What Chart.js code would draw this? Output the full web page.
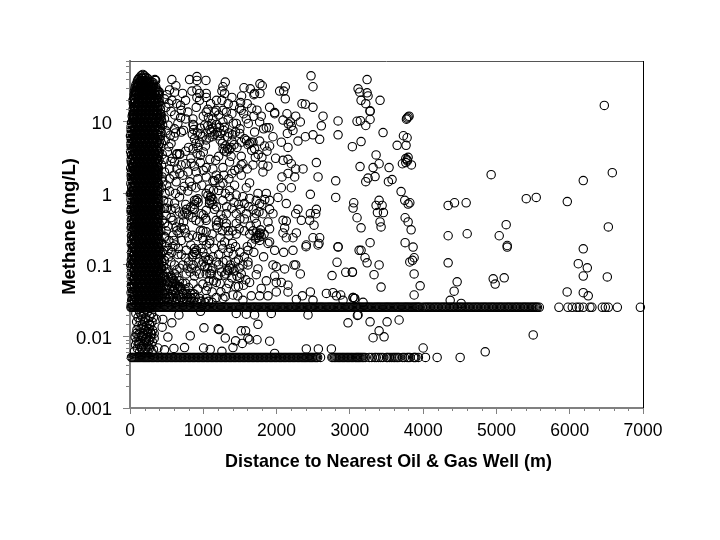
<!DOCTYPE html>
<html><head><meta charset="utf-8">
<style>html,body{margin:0;padding:0;background:#fff}canvas{display:block}</style>
<script src="https://cdn.jsdelivr.net/npm/chart.js@4"></script>
</head><body><canvas id="c" width="720" height="540" style="width:720px;height:540px"></canvas>
<script>
const xTickLabels=['0','1000','2000','3000','4000','5000','6000','7000'];
const yTickLabels=['0.001','0.01','0.1','1','10'];
const xTitle='Distance to Nearest Oil & Gas Well (m)';
const yTitle='Methane (mg/L)';
const detectLimitHigh=0.0256;
const detectLimitLow=0.0051;
const highLimitDistances=[12,40,70,95,120,150,180,210,240,270,300,330,360,390,420,455,490,520,550,585,620,650,680,715,750,780,810,845,880,910,940,975,1010,1040,1070,1105,1140,1170,1200,1235,1270,1300,1330,1365,1400,1430,1460,1495,1530,1560,1590,1625,1660,1690,1720,1755,1790,1820,1850,1885,1920,1950,1980,2015,2050,2080,2110,2145,2180,2210,2240,2275,2310,2340,2370,2405,2440,2470,2500,2535,2570,2600,2630,2665,2700,2730,2760,2795,2830,2860,2890,2925,2960,2990,3020,3055,3090,3120,3150,3185,3220,3250,3280,3315,3350,3380,3410,3445,3480,3510,3540,3575,3610,3640,3670,3705,3740,3770,3800,3835,3870,3900,3930,3958,3990,4030,4065,4100,4140,4175,4210,4250,4285,4320,4360,4395,4430,4470,4505,4540,4580,4615,4650,4690,4725,4760,4800,4835,4870,4910,4945,4980,5020,5055,5090,5130,5165,5200,5240,5275,5310,5350,5385,5420,5460,5495,5530,5560,5585,5853,5976,6035,6094,6130,6185,6276,6303,6445,6486,6527,6650,6964];
const highLimitExtra=[25,55,82,108,135,165,195,225,255,285,315,345,375,405,437,472,505,535,567,602,635,665,697,732,765,795,827,862,895,925,957,992,1025,1055,1087,1122,1155,1185,1217,1252,1285,1315,1347,1382,1415,1445,1477,1512,1545,1575,1607,1642,1675,1705,1737,1772,1805,1835,1867,1902,1935,1965,1997,2032,2065,2095,2127,2162,2195,2225,2257,2292,2325,2355,2387,2422,2455,2485,2517,2552,2585,2615,2647,2682,2715,2745,2777,2812,2845,2875,2907,2942,2975,3005,3037,3072,3105,3135,3167,3202,3235,3265,3297,3332,3365,3395,3427,3462,3495,3525,3557,3592,3625,3655,3687,3722,3755,3785,3817,3852,3885,3915,3944,4012,4048,4082,4120,4158,4192,4230,4268,4302,4340,4378,4412,4450,4488,4522,4560,4598,4632,4670,4708,4742,4780,4818,4852,4890,4928,4962,5000,5038,5072,5110,5148,5182,5220,5258,5292,5330,5368,5402,5440,5478,5512,5545];
const lowLimitDistances=[30,60,90,120,150,180,210,240,270,305,340,375,410,445,480,515,550,585,620,655,690,725,760,795,830,865,900,935,970,1005,1040,1075,1110,1145,1180,1215,1250,1285,1320,1355,1390,1425,1460,1495,1530,1565,1600,1635,1670,1705,1740,1775,1810,1845,1880,1915,1950,1985,2020,2055,2090,2125,2160,2195,2230,2265,2300,2335,2370,2400,2430,2465,2495,2530,2560,2600,2755,2790,2825,2860,2895,2930,2965,3000,3035,3075,3105,3135,3170,3210,3265,3300,3340,3390,3420,3450,3500,3540,3565,3610,3650,3670,3720,3780,3820,3870,3900,3935,4032,4191,4505];
const lowLimitExtra=[20,45,75,105,135,165,195,225,255,288,322,358,392,428,462,498,532,568,602,638,672,708,742,778,812,848,882,918,952,988,1022,1058,1092,1128,1162,1198,1232,1268,1302,1338,1372,1408,1442,1478,1512,1548,1582,1618,1652,1688,1722,1758,1792,1828,1862,1898,1932,1968,2002,2038,2072,2108,2142,2178,2212,2248,2282,2318,2352,2385,2415,2448,2480,2512,2545,2770,2808,2842,2878,2912,2948,2982,3018,3055,3090,3120,3152,3190,3360,3515,3590,3630,3745,3800,3885];
const blobMethane=[0.03,0.034,0.039,0.044,0.05,0.057,0.065,0.074,0.084,0.096,0.11,0.125,0.14,0.16,0.18,0.21,0.24,0.27,0.31,0.35,0.4,0.45,0.52,0.59,0.67,0.76,0.87,0.99,1.1,1.3,1.45,1.65,1.9,2.1,2.4,2.8,3.1,3.6,4.1,4.6,5.3,6,6.8,7.8,8.9,10,11.5,13,15,17,19,22,25,28,32,36,41];
const blobDistances=[
[55,110,165,220,275,330,385],[80,135,190,245,300,355,410],[45,100,160,215,270,325,380],[70,125,185,240,295,350,405],
[50,105,160,218,272,328,384],[75,130,188,244,298,352,400],[48,102,158,214,268,322,378],[72,128,182,238,292,348,395],
[52,108,164,220,274,330,382],[78,132,186,242,296,354,398],[46,100,156,212,266,320,376],[70,126,180,236,290,346,392],
[50,106,162,216,272,326,380],[76,130,184,240,294,350,396],[44,98,154,210,264,318,374],[68,124,178,234,288,344,390],
[48,104,160,214,270,324,378],[74,128,182,238,292,348,388],[42,96,152,208,262,316,372],[66,122,176,232,286,342,386],
[46,102,158,212,268,322,376],[72,126,180,236,290,346,384],[40,94,150,206,260,314,370],[64,120,174,230,284,340,382],
[44,100,156,210,266,320,374],[70,124,178,234,288,344,380],[38,92,148,204,258,312,368],[62,118,172,228,282,338,378],
[42,98,154,208,264,318,372],[68,122,176,232,286,342,376],[36,90,146,202,256,310,366],[60,116,170,226,280,336,374],
[40,96,152,206,262,316,370],[66,120,174,230,284,340,378],[34,88,144,200,254,308,364],[58,114,168,224,278,334,380],
[38,94,150,204,260,314,368],[64,118,172,228,282,338,384],[32,86,142,198,252,306,362],[56,112,166,222,276,332,388],
[30,90,148,202,258,312,366],[52,110,170,226,280,336,395],[28,88,144,200,256,310,364],[54,108,168,224,278,334,400],
[30,86,142,198,254,308,360],[56,106,166,222,276,332,405],[60,112,164,218,270,322,372],[66,118,170,224,276,328,384],
[70,122,176,230,282,336],[80,130,184,238,290,345],[75,126,180,234,286,340],[85,135,190,244,296],[90,140,194,250,330],
[100,150,200,262],[115,165,220,285],[130,180,235],[160,205,170]
];
const blobMethaneB=[0.028,0.032,0.036,0.041,0.047,0.053,0.061,0.069,0.079,0.09,0.103,0.117,0.133,0.15,0.17,0.195,0.225,0.255,0.29,0.33,0.375,0.425,0.485,0.555,0.63,0.715,0.815,0.93,1.05,1.2,1.37,1.55,1.77,2,2.25,2.6,2.95,3.35,3.85,4.35,4.95,5.65,6.4,7.3,8.3,9.5,10.8,12.2,14,16,18,20.5,23.5,26.5,30,34,38];
const blobDistancesB=[
[18,35,85,140,195,250,305,360],[22,60,115,170,225,280,335,390],[30,75,130,190,245,300,355,395],[15,50,105,160,215,270,325,385],
[25,80,135,195,250,305,358,408],[20,55,112,168,222,278,332,392],[28,78,134,188,242,296,352,402],[16,58,110,166,220,276,330,388],
[24,82,138,194,248,302,356,406],[20,62,116,172,226,280,336,384],[30,74,128,184,240,294,348,394],[18,56,112,168,224,278,332,386],
[26,80,136,190,246,300,354,402],[22,60,114,170,224,282,338,384],[32,72,126,182,238,292,346,398],[18,54,108,164,218,274,328,382],
[24,78,132,188,244,298,352,400],[20,58,112,166,220,276,330,380],[30,70,124,180,236,290,344,396],[16,52,106,162,216,272,326,378],
[22,76,130,186,242,296,350,398],[18,56,110,164,218,274,328,376],[28,68,122,178,234,288,342,394],[15,50,104,160,214,270,324,380],
[20,74,128,184,240,294,348,396],[26,54,108,162,216,272,326,384],[14,66,120,176,232,286,340,392],[30,48,102,158,212,268,322,378],
[18,72,126,182,238,292,346,394],[24,52,106,160,214,270,324,380],[12,64,118,174,230,284,338,390],[32,46,100,156,210,266,320,376],
[16,70,124,180,236,290,344,392],[22,50,104,158,212,268,322,382],[10,62,116,172,228,282,336,388],[28,44,98,154,208,264,318,374],
[14,68,122,178,234,288,342,396],[20,48,102,156,210,266,320,384],[8,60,114,170,226,280,334,392],[26,42,96,152,206,262,316,372],
[12,66,120,176,232,286,340,400],[18,46,100,154,208,264,318,412],[6,58,112,168,224,278,332,418],[24,40,94,150,204,260,314,424],
[14,64,118,174,230,284,338,415],[20,44,98,152,206,262,316,408],[38,84,136,190,244,296,348,396],[44,92,144,196,250,302,356,404],
[50,96,150,204,256,308,362],[54,104,158,210,264,318,370],[58,100,154,206,260,312,366],[64,112,166,216,272,322,352],
[72,118,172,226,280,312],[84,128,178,234,274],[96,148,196,248,300],[120,158,210,264],[145,176,226]
];
const blobMethaneC=[0.032,0.037,0.042,0.048,0.055,0.063,0.071,0.082,0.093,0.106,0.12,0.137,0.155,0.177,0.2,0.23,0.26,0.3,0.34,0.39,0.44,0.5,0.57,0.65,0.74,0.84,0.96,1.08,1.24,1.42,1.6,1.83,2.07,2.35,2.7,3.05,3.45,3.95,4.5,5.1,5.8,6.6,7.5,8.6,9.8,11.1,12.7,14.5,16.5,18.8,21.3,24,27,31,35];
const blobDistancesC=[
[38,92,150,205,262,318,368],[62,118,176,232,288,340,392],[34,88,144,200,256,312,362],[58,112,170,226,282,336,388],
[36,90,148,204,260,316,366],[60,116,174,230,286,338,390],[32,86,142,198,254,310,360],[56,110,168,224,280,334,386],
[34,88,146,202,258,314,364],[58,114,172,228,284,336,388],[30,84,140,196,252,308,358],[54,108,166,222,278,332,384],
[32,86,144,200,256,312,362],[56,112,170,226,282,334,386],[28,82,138,194,250,306,356],[52,106,164,220,276,330,382],
[30,84,142,198,254,310,360],[54,110,168,224,280,332,384],[26,80,136,192,248,304,354],[50,104,162,218,274,328,380],
[28,82,140,196,252,308,358],[52,108,166,222,278,330,382],[24,78,134,190,246,302,352],[48,102,160,216,272,326,378],
[26,80,138,194,250,306,356],[50,106,164,220,276,328,380],[22,76,132,188,244,300,350],[46,100,158,214,270,324,376],
[24,78,136,192,248,304,354],[48,104,162,218,274,326,378],[20,74,130,186,242,298,348],[44,98,156,212,268,322,374],
[22,76,134,190,246,302,352],[46,102,160,216,272,324,376],[18,72,128,184,240,296,346],[42,96,154,210,266,320,372],
[20,74,132,188,244,300,350],[44,100,158,214,270,322,374],[16,70,126,182,238,294,344],[40,94,152,208,264,318,370],
[18,72,130,186,242,298,348],[42,98,156,212,268,320,380],[15,68,124,180,236,292,342],[38,92,150,206,262,316,376],
[22,76,128,182,236,288,342,392],[46,94,146,200,254,306,360,410],[48,104,160,214,268,320,374,420],[60,110,152,208,262,314,368],
[66,116,168,222,278,332,380],[72,122,176,232,286,338,386],[58,108,162,216,270,326,372],[68,120,174,228,284,340,394],
[76,128,182,238,292,344,384],[86,136,192,246,300,352],[100,154,208,266,318]
];
const lowBlobPoints=[[80,0.021],[130,0.022],[185,0.0215],[240,0.022],[295,0.021],[110,0.0185],[160,0.019],[215,0.0185],[270,0.019],[320,0.0185],[90,0.016],[140,0.0165],[195,0.016],[250,0.0165],[300,0.016],[120,0.014],[170,0.0145],[225,0.014],[275,0.0142],[95,0.0125],[150,0.0128],[205,0.0125],[260,0.0128],[310,0.0122],[85,0.011],[135,0.0112],[190,0.011],[245,0.0112],[295,0.0108],[70,0.0098],[120,0.0096],[175,0.0098],[230,0.0096],[280,0.0098],[330,0.0094],[90,0.0086],[145,0.0088],[200,0.0086],[255,0.0086],[305,0.0084],[75,0.0076],[125,0.0077],[180,0.0076],[235,0.0076],[290,0.0076],[100,0.0068],[155,0.0068],[210,0.0068],[265,0.0068],[320,0.0066],[60,0.0062],[130,0.006],[190,0.006],[245,0.006],[300,0.006],[150,0.0205],[210,0.0175],[265,0.015],[180,0.0132],[235,0.0118],[280,0.0115],[160,0.0103],[215,0.0092],[270,0.009],[120,0.0082],[160,0.0072],[250,0.0072],[220,0.0082],[110,0.0105],[330,0.011]];
const topBlobPoints=[[175,46],[150,44],[195,44],[125,41],[220,42],[245,40],[100,37],[270,37],[300,36],[80,33],[320,33],[70,30],[345,30],[60,27],[365,28],[380,26],[55,24],[390,24],[395,21],[50,21],[400,19],[45,18],[410,17],[42,15],[415,15],[38,13],[420,13],[110,39],[140,36],[170,38],[205,37],[235,35],[105,31],[130,29],[160,31],[190,30],[220,30],[255,31],[285,30],[315,28],[75,26],[100,25],[125,24],[155,26],[185,25],[215,25],[245,25],[275,25],[305,24],[335,25],[360,23]];
const triangleZonePoints=[[420,0.03],[470,0.031],[520,0.03],[570,0.031],[620,0.03],[670,0.031],[720,0.03],[770,0.031],[820,0.03],[870,0.031],[920,0.03],[970,0.031],[1020,0.03],[1070,0.031],[1120,0.03],[440,0.034],[490,0.035],[540,0.034],[590,0.035],[640,0.034],[690,0.035],[740,0.034],[790,0.035],[840,0.034],[890,0.035],[950,0.034],[420,0.038],[470,0.039],[520,0.04],[570,0.039],[620,0.04],[670,0.039],[720,0.04],[770,0.039],[820,0.04],[880,0.039],[440,0.044],[490,0.045],[540,0.046],[600,0.045],[650,0.046],[700,0.045],[750,0.046],[420,0.05],[470,0.052],[520,0.052],[570,0.05],[630,0.052],[680,0.05],[440,0.058],[490,0.06],[540,0.058],[600,0.06],[420,0.066],[470,0.068],[520,0.068],[440,0.076],[480,0.08],[420,0.09],[460,0.095],[430,0.11],[470,0.115],[420,0.14],[460,0.16],[430,0.2],[470,0.25],[420,0.3],[440,0.42],[420,0.6],[460,0.8],[430,1.2],[440,1.7],[430,2.5],[440,3.5]];
const clusterPoints=[[904,0.8],[930,0.75],[880,0.7],[1109,0.89],[1109,0.76],[1130,0.82],[1085,0.72],[745,0.55],[770,0.6],[720,0.5],[1746,0.257],[1770,0.27],[1720,0.24],[881,0.15],[905,0.16],[860,0.14],[881,0.17],[1109,0.083],[1130,0.09],[1090,0.075],[1336,0.083],[1360,0.09],[1310,0.075],[562,0.067],[608,0.049],[585,0.055],[1000,0.5],[1030,0.45],[1240,0.5],[1270,0.44],[1180,0.36],[1210,0.4],[1310,0.34],[1340,0.3],[960,0.3],[920,0.25],[990,0.24],[670,0.4],[700,0.33],[640,0.3],[590,0.26],[520,0.35],[560,0.46],[500,0.62],[1400,0.2],[1440,0.18],[1370,0.17],[1290,0.21],[1250,0.19],[1000,0.22],[1040,0.19],[1030,0.13],[1080,0.12],[1000,0.11],[1210,0.1],[1270,0.11],[1440,0.11],[1490,0.09],[1540,0.1],[700,0.14],[660,0.17],[620,0.19],[570,0.15],[520,0.16],[680,0.09],[640,0.085],[820,0.08],[860,0.1],[780,0.09],[1600,0.18],[1660,0.2],[1680,0.3],[1560,0.3],[1640,0.35],[1500,0.44]];
const upperFieldExtra=[[470,11],[520,9],[490,7.5],[550,6.5],[480,5.5],[510,3.8],[580,3.1],[470,3],[560,2.8],[640,2.2],[680,1.9],[600,1.8],[760,2.6],[830,3.1],[880,2.4],[960,2.7],[1000,2.1],[1090,3],[1170,2.9],[1210,3.3],[1380,3.3],[1430,2.1],[1480,2.2],[1600,2.2],[1350,1.6],[1390,1.9],[1280,1.8],[1210,1.6],[980,1.3],[900,1.2],[840,1.25],[1000,12],[1070,11.5],[1210,12.5],[1110,9.5],[1190,7.2],[1240,6.9],[1280,7.6],[1330,6.2],[1440,7.2],[1390,5.4],[960,8.2],[920,7],[960,6.8],[690,11.5],[760,11],[690,17],[640,18],[700,14.5],[610,12.5],[560,14],[530,18],[490,16],[470,21],[1100,18],[1180,20],[1340,18],[1420,17],[1600,18],[1660,15.5]];
const midUpperPoints=[[571,39],[626,32],[540,28],[503,24],[608,26],[571,20],[717,25],[758,20],[813,39],[913,43],[913,38],[1036,38],[845,27],[913,28],[949,25],[913,22],[1040,25],[949,20],[1040,22],[1300,36],[1268,31],[1254,27],[1291,25],[1391,22],[1254,20],[1555,30],[1641,29],[1773,34],[1805,32],[1700,25],[1773,25],[1523,23],[1691,24],[2042,27],[2119,31],[2097,27],[2119,21],[2470,44],[2497,31],[2347,18],[2393,17.7],[2497,16],[2634,12],[2611,8.8],[2839,10.3],[2839,6.6],[1905,16],[1974,13.5],[1974,13],[1732,14.6],[1791,12],[1691,12],[1587,11],[1614,9.5],[1769,10],[2142,13],[2261,12],[2088,10.6],[2324,10],[2188,10],[2160,9.4],[2201,8.7],[2224,7.6],[2147,6.9],[2393,6.2],[2497,6.6],[2588,5.7],[2292,5.4],[2065,5.2],[2156,4.4],[1951,6.2],[1860,8.3],[1896,8.3],[1823,8],[1700,7.2],[1769,5.4],[1905,4.6],[1837,4.6],[1869,3.9],[1518,14.6],[1496,15.5],[1550,13],[1509,18.6],[1391,13],[1314,13.7],[1268,10],[1154,13.7],[1063,15],[1040,13.7],[790,13.7],[858,11],[867,9],[653,9.5],[608,8],[731,7.6],[904,16],[1131,11],[1177,14.5],[1268,14.5],[1450,9.5],[1496,6.9],[1564,5.8],[1518,5.2],[1632,5],[1678,5.2],[1109,7.2],[1090,7.8],[1130,8.2],[1150,6.6],[1080,6],[1120,6.2],[1200,6.4],[1230,5.6],[1260,5],[1300,4.6],[1330,4.3],[1355,4.1],[1290,3.9],[1270,4.2],[1320,3.8],[1380,4.4],[1420,4.8],[1460,4.4],[1400,6.6],[1350,7],[1290,8.4],[1590,5.5],[1650,5.2],[1610,4.8],[858,9.2],[870,7.8],[850,6.7],[880,5.8],[900,5],[930,4.4],[860,4.2],[915,3.6],[960,3.4],[1000,3.8],[1030,4.6],[1040,5.6],[990,6.2],[950,5.2],[800,4.4],[760,3.9],[680,3.5],[640,3.6],[560,5],[530,4.5],[600,6.2],[620,7],[700,7.2],[1020,9],[1060,8.8],[1180,9.2],[1220,8.4],[1340,11],[1410,9.6],[1500,8],[1660,4],[1700,4.2],[1750,3.5],[1800,3.2]];
const midCentrePoints=[[640,3.5],[676,3.6],[608,2.75],[699,2.5],[835,2.65],[790,2],[904,2],[540,2.2],[926,1.6],[813,1.45],[722,1.8],[630,1.45],[540,1.6],[449,1.45],[540,1.08],[608,0.73],[676,0.89],[790,1.08],[880,0.8],[926,0.84],[1040,2.3],[1131,2.2],[1268,2.3],[1359,2.75],[1518,2.5],[1541,2.6],[1518,3.3],[1678,2.5],[1710,3.2],[1814,2.5],[1882,2.4],[1814,2],[1987,3.1],[2088,2.9],[2156,3],[2201,2.6],[2261,2.2],[2361,2.2],[2543,2.7],[2566,1.7],[2807,1.5],[2807,0.88],[2074,1.7],[2156,1.9],[2247,1.7],[2201,1.2],[2065,1.2],[2461,0.97],[1860,1],[1746,1],[1632,1.4],[1587,1.2],[1427,1.3],[1518,1.8],[1359,1.1],[1268,1.4],[1154,1.5],[1131,1.5],[1040,1.7],[1177,1.8],[1063,0.94],[1086,0.8],[1131,0.7],[1040,1],[1268,0.8],[1359,0.9],[1450,0.95],[1541,0.9],[1632,0.85],[1723,0.8],[1769,0.72],[1905,0.8],[2019,0.88],[2133,0.72],[1905,0.6],[1951,0.52],[2292,0.6],[2261,0.52],[2543,0.6],[2461,0.52],[2534,0.52],[2338,0.42],[2451,0.42],[2511,0.36],[1814,0.52],[1723,0.52],[1587,0.52],[1450,0.52],[1314,0.52],[1154,0.6],[1040,0.58],[972,0.52],[767,0.52],[676,0.55],[494,0.5],[585,0.42],[471,0.38],[731,0.4],[949,0.4],[1040,0.42],[1177,0.42],[1314,0.38],[1450,0.38],[1723,0.38],[1883,0.4],[2088,0.42],[2133,0.41],[2110,0.33],[1905,0.32],[1723,0.28],[1632,0.27],[1769,0.28],[1769,0.22],[1905,0.21],[2088,0.28],[2270,0.28],[2224,0.24],[2133,0.24],[2497,0.24],[2588,0.24],[2566,0.19],[2406,0.19],[2839,0.18],[1450,0.27],[1040,0.29],[995,0.3],[744,0.32],[630,0.34],[494,0.3],[560,0.6],[520,0.75],[480,1],[500,1.3],[470,2],[620,1],[700,1.1],[740,1.25],[760,0.7],[830,0.65],[860,0.62],[880,0.6],[800,0.5],[850,0.46],[900,0.42],[620,0.62],[470,0.62],[1080,1.15],[1100,0.9],[1140,1.1],[1180,0.65],[1210,1.1],[1230,1.3],[1300,1],[1320,0.65],[1390,0.62],[1420,0.75],[1480,0.7],[1510,0.6],[1560,0.72],[1620,0.65],[1680,0.6],[1700,0.45],[1760,0.55],[1800,0.7],[1840,0.82],[1560,0.44],[1490,0.32],[1400,0.3],[1350,0.26],[1260,0.3],[1230,0.24],[1190,0.33],[1120,0.27],[1090,0.22],[850,0.26],[800,0.24],[760,0.28],[700,0.22],[670,0.28],[600,0.22],[530,0.22],[470,0.24],[1780,0.31],[1750,0.24],[1710,0.23],[1790,0.25],[1830,0.27]];
const midLowerPoints=[[2402,0.18],[2579,0.2],[2839,0.178],[3126,0.16],[2825,0.109],[2757,0.071],[2944,0.079],[3035,0.079],[2324,0.075],[2261,0.1],[2238,0.1],[2110,0.088],[1996,0.095],[1951,0.1],[1823,0.13],[1974,0.16],[2097,0.15],[2224,0.16],[1883,0.2],[1746,0.088],[1723,0.073],[1609,0.16],[1609,0.1],[1632,0.057],[1860,0.06],[1974,0.07],[1996,0.057],[2065,0.057],[2156,0.052],[1791,0.047],[1769,0.037],[1655,0.037],[1883,0.037],[1996,0.042],[2156,0.042],[2270,0.033],[2352,0.037],[2461,0.042],[2497,0.032],[2680,0.04],[2770,0.041],[2816,0.037],[2875,0.038],[2907,0.032],[3044,0.035],[3066,0.034],[1541,0.032],[1496,0.067],[1518,0.075],[1405,0.09],[1314,0.115],[1268,0.17],[1086,0.2],[1063,0.115],[995,0.15],[904,0.14],[767,0.16],[653,0.14],[585,0.18],[494,0.18],[722,0.1],[608,0.1],[494,0.088],[585,0.064],[676,0.06],[767,0.075],[904,0.082],[949,0.075],[1108,0.075],[1177,0.057],[995,0.054],[1040,0.044],[926,0.046],[1314,0.047],[1405,0.038],[1268,0.034],[1177,0.035],[1040,0.034],[858,0.04],[722,0.04],[585,0.044],[494,0.049],[494,0.034],[430,0.09],[450,0.07],[430,0.055],[450,0.04],[410,0.12],[440,0.15],[530,0.13],[560,0.11],[520,0.08],[560,0.07],[610,0.075],[640,0.068],[620,0.055],[660,0.05],[690,0.048],[720,0.055],[760,0.055],[800,0.048],[770,0.04],[830,0.035],[700,0.035],[640,0.034],[550,0.036],[860,0.055],[880,0.07],[840,0.09],[800,0.11],[760,0.125],[850,0.13],[880,0.15],[940,0.11],[980,0.1],[1020,0.095],[1060,0.09],[1040,0.075],[1080,0.06],[1060,0.05],[1120,0.042],[1140,0.06],[1230,0.055],[1200,0.07],[1250,0.08],[1290,0.072],[1330,0.085],[1370,0.1],[1420,0.082],[1460,0.07],[1390,0.066],[1350,0.055],[1440,0.05],[1480,0.05],[1240,0.042],[1300,0.036],[1470,0.037],[1550,0.052],[1580,0.062],[1180,0.11],[1130,0.13],[1210,0.14],[1340,0.15],[1410,0.14],[1480,0.12],[1500,0.15],[1150,0.17],[970,0.17],[830,0.19],[1560,0.13],[1610,0.11],[1690,0.15]];
const belowBandPoints=[[963,0.0225],[1450,0.021],[1587,0.0205],[1700,0.02],[1928,0.021],[2429,0.02],[2975,0.0155],[3103,0.0197],[667,0.02],[448,0.0173],[571,0.0155],[359,0.0174],[439,0.0135],[517,0.0098],[1009,0.0132],[1204,0.0128],[1214,0.0125],[822,0.0102],[1300,0.0095],[1441,0.0087],[1405,0.007],[1532,0.008],[1518,0.012],[1577,0.012],[1609,0.0095],[1632,0.009],[1733,0.009],[1746,0.0148],[1906,0.0086],[1974,0.0058],[1004,0.0069],[1095,0.0066],[1254,0.0062],[744,0.007],[599,0.0068],[471,0.0065],[380,0.0069],[2406,0.0067],[2570,0.0067],[2748,0.0067],[3112,0.02],[3276,0.016],[3508,0.016],[3672,0.017],[3399,0.012],[3317,0.0096],[3467,0.0099],[4000,0.0069],[5502,0.0105],[4847,0.0061]];
const rightPoints=[[3235,39],[3112,29],[3135,26],[3235,25.5],[3248,23],[3153,20],[3412,20],[3217,18],[3276,14.3],[3276,14],[3098,10.2],[3144,10.4],[3276,10.8],[3217,8.9],[3453,7.1],[3153,5.3],[3034,4.5],[3731,6.4],[3781,6],[3645,4.7],[3767,4.7],[3795,11.7],[3772,10.9],[3808,12],[3781,11.3],[3763,3.07],[3795,3.2],[3781,2.95],[3717,2.6],[3763,2.7],[3840,2.5],[3785,2.85],[3358,3.45],[3399,2.6],[3139,2.37],[3317,2.3],[3535,2.3],[3344,1.72],[3248,1.64],[3217,1.46],[3526,1.46],[3576,1.56],[3699,1.06],[3749,0.8],[3795,0.71],[3818,0.74],[3399,0.8],[3440,0.68],[3358,0.68],[3053,0.74],[3044,0.625],[3376,0.54],[3458,0.54],[3098,0.457],[3153,0.33],[3412,0.4],[3426,0.34],[3754,0.457],[3795,0.4],[3836,0.31],[3276,0.205],[3153,0.16],[3754,0.205],[3863,0.178],[4928,1.83],[6472,17],[6581,1.95],[6185,1.51],[5407,0.845],[5543,0.88],[5967,0.77],[4428,0.74],[4341,0.68],[4587,0.74],[5133,0.365],[5038,0.256],[6527,0.34],[4341,0.256],[4601,0.273],[5147,0.187],[5147,0.178],[6185,0.168],[3207,0.126],[3235,0.107],[3399,0.1],[3034,0.08],[3330,0.073],[3426,0.049],[3818,0.11],[3854,0.116],[3877,0.126],[3877,0.075],[3959,0.051],[3877,0.038],[4341,0.107],[4464,0.058],[4423,0.043],[4369,0.032],[4519,0.029],[4956,0.064],[4983,0.054],[5106,0.066],[6117,0.104],[6240,0.091],[6185,0.07],[6513,0.068],[5965,0.042],[6185,0.041],[6253,0.037],[3044,0.035],[3066,0.034],[3180,0.03]];
const leftStragglers=[[10,6.5],[25,5.5],[5,0.98],[20,1.9],[15,0.6],[10,0.1],[20,0.05],[30,0.2],[30,12],[40,20],[425,12],[430,10.5],[445,9],[420,7],[430,5],[400,26],[350,38],[345,38],[340,39]];

const points=[];
for(const x of highLimitDistances)points.push({x,y:detectLimitHigh});
for(const x of highLimitExtra)points.push({x,y:detectLimitHigh});
for(const x of lowLimitDistances)points.push({x,y:detectLimitLow});
for(const x of lowLimitExtra)points.push({x,y:detectLimitLow});
blobDistances.forEach((row,i)=>{for(const x of row)points.push({x,y:blobMethane[i]});});
blobDistancesB.forEach((row,i)=>{for(const x of row)points.push({x,y:blobMethaneB[i]});});
blobDistancesC.forEach((row,i)=>{for(const x of row)points.push({x,y:blobMethaneC[i]});});
for(const list of [lowBlobPoints,topBlobPoints,triangleZonePoints,clusterPoints,upperFieldExtra,midUpperPoints,midCentrePoints,midLowerPoints,belowBandPoints,rightPoints,leftStragglers])
  for(const [x,y] of list)points.push({x,y});

const GREY='#808080';
const FONT='"Liberation Sans", Arial, sans-serif';
const isDecade=v=>Math.abs(Math.log10(v)-Math.round(Math.log10(v)))<1e-9;
const shiftTitle=(s,keyA,keyB,d)=>{const base=Object.getPrototypeOf(s).drawTitle;s.drawTitle=function(){const a=this[keyA],b=this[keyB];this[keyA]=a+d;this[keyB]=b+d;base.call(this);this[keyA]=a;this[keyB]=b;};};
const minorTicks={id:'minorTicks',afterDraw(chart){
  const {ctx,scales:{x,y},chartArea:a}=chart;
  ctx.save();ctx.strokeStyle=GREY;ctx.lineWidth=1;ctx.beginPath();
  for(const t of x.ticks){if(t.value%1000!==0){const p=Math.round(x.getPixelForValue(t.value))+.5;ctx.moveTo(p,a.bottom);ctx.lineTo(p,a.bottom+3);}}
  for(const t of y.ticks){if(!isDecade(t.value)){const p=Math.round(y.getPixelForValue(t.value))+.5;ctx.moveTo(a.left,p);ctx.lineTo(a.left-4,p);}}
  ctx.stroke();
  ctx.strokeStyle='#555';ctx.beginPath();ctx.moveTo(a.left,a.top+.5);ctx.lineTo(a.right,a.top+.5);ctx.stroke();
  ctx.strokeStyle='#000';ctx.beginPath();ctx.moveTo(a.right+.5,a.top);ctx.lineTo(a.right+.5,a.bottom);ctx.stroke();
  ctx.restore();
}};
new Chart(document.getElementById('c'),{
  type:'scatter',
  data:{datasets:[{data:points,pointStyle:'circle',pointRadius:4.2,pointBorderWidth:1.1,pointBorderColor:'#000',pointBackgroundColor:'rgba(0,0,0,0)',clip:false}]},
  plugins:[minorTicks],
  options:{
    responsive:false,animation:false,devicePixelRatio:1,
    layout:{padding:{left:59,right:77,top:61,bottom:67}},
    plugins:{legend:{display:false},tooltip:{enabled:false}},
    scales:{
      x:{type:'linear',min:0,max:7000,
        afterFit(s){s.height=65;shiftTitle(s,'left','right',2);},
        border:{color:GREY,width:2},
        grid:{drawOnChartArea:false,drawTicks:true,tickLength:6,tickColor:c=>c.tick&&c.tick.value%1000===0?GREY:'rgba(0,0,0,0)'},
        ticks:{stepSize:200,autoSkip:false,maxRotation:0,color:'#000',padding:7,font:{family:FONT,size:17.5},
          callback:v=>v%1000===0?xTickLabels[v/1000]:''},
        title:{display:true,text:xTitle,color:'#000',font:{family:FONT,size:17.9,weight:'bold'},padding:{top:0,bottom:0}}},
      y:{type:'logarithmic',min:0.001,max:71,
        afterFit(s){s.width=71;shiftTitle(s,'top','bottom',-8);},
        border:{color:GREY,width:2},
        grid:{drawOnChartArea:false,drawTicks:true,tickLength:7,tickColor:c=>c.tick&&isDecade(c.tick.value)?GREY:'rgba(0,0,0,0)'},
        ticks:{autoSkip:false,color:'#000',padding:11,labelOffset:2,font:{family:FONT,size:18.5},
          callback:v=>isDecade(v)?yTickLabels[Math.round(Math.log10(v))+3]:''},
        title:{display:true,text:yTitle,color:'#000',font:{family:FONT,size:18.5,weight:'bold'},padding:{top:0,bottom:0}}}
    }
  }
});
</script></body></html>
